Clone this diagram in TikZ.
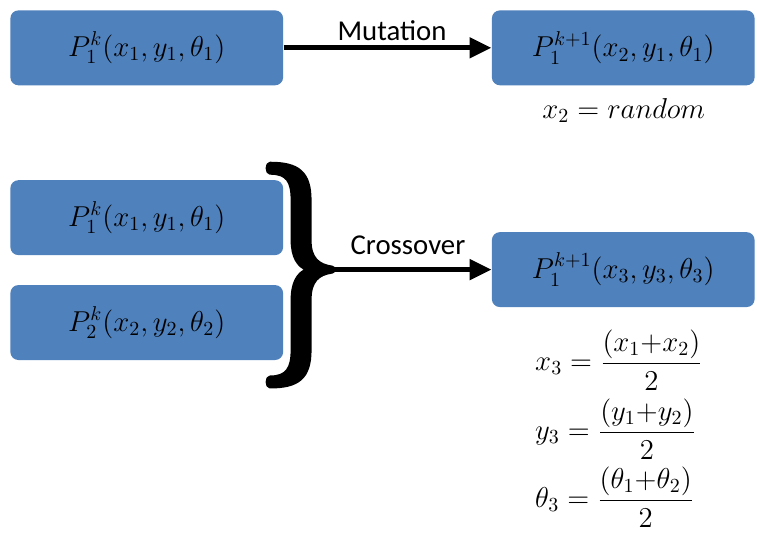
\documentclass[tikz,border=0pt]{standalone}
\usepackage{amsmath,amssymb}
\usepackage{fontspec}
\setsansfont{Carlito}
\usetikzlibrary{arrows.meta}
\definecolor{boxblue}{RGB}{79,129,189}

\begin{document}
\begin{tikzpicture}[x=0.5pt,y=0.5pt,
  gabox/.style={fill=boxblue,rounded corners=4pt,minimum height=37.5pt,inner sep=0pt,font=\Large},
  oparrow/.style={line width=2.5pt,-{Triangle[length=11pt,width=10pt]}},
  oplabel/.style={font=\sffamily\Large,inner sep=0pt},
  eqtext/.style={font=\Large,inner sep=0pt,anchor=west}]
\filldraw[color=white] (0,0) rectangle (757,-532);
% Drawing mutation row
\node[gabox,minimum width=136.5pt] (pmut) at (146.5,-47.5) {$P_1^k(x_1,y_1,\theta_1)$};
\node[gabox,minimum width=131.5pt] (cmut) at (623.5,-47.5) {$P_1^{k+1}(x_2,y_1,\theta_1)$};
\draw[oparrow] (pmut.east) -- (cmut.west);
\node[oplabel] (lmut) at (392,-30) {Mutation};
\node[font=\Large,inner sep=0pt] (rmut) at (624,-110) {$x_2=random$};
% Drawing crossover row
\node[gabox,minimum width=136.5pt] (pone) at (146.5,-217.5) {$P_1^k(x_1,y_1,\theta_1)$};
\node[gabox,minimum width=136.5pt] (ptwo) at (146.5,-322.5) {$P_2^k(x_2,y_2,\theta_2)$};
\node[gabox,minimum width=131.5pt] (ccross) at (623.5,-269.5) {$P_1^{k+1}(x_3,y_3,\theta_3)$};
% Brace as a filled outline
\filldraw[line width=1.5pt,line join=round] (270,-163) .. controls (298,-163) and (310,-172) .. (310,-200)
  -- (310,-240) .. controls (310,-258) and (318,-265) .. (332,-267)
  .. controls (335,-268) and (335,-271) .. (332,-272)
  .. controls (318,-274) and (310,-281) .. (310,-300)
  -- (310,-350) .. controls (310,-378) and (298,-387) .. (270,-387)
  .. controls (266,-387) and (266,-377) .. (270,-377)
  .. controls (287,-377) and (292,-368) .. (292,-350)
  -- (292,-300) .. controls (292,-282) and (298,-273) .. (307,-269.5)
  .. controls (298,-266) and (292,-257) .. (292,-240)
  -- (292,-200) .. controls (292,-181) and (287,-173) .. (270,-173)
  .. controls (266,-173) and (266,-163) .. (270,-163) -- cycle;
\coordinate (tip) at (330,-269.5);
\draw[oparrow] (tip) -- (ccross.west);
\node[oplabel] (lcross) at (408,-245) {Crossover};
% Done with arrows; drawing formulas
\node[eqtext] (eqx) at (535,-360) {$x_3=\dfrac{(x_1{+}x_2)}{2}$};
\node[eqtext] (eqy) at (535,-429) {$y_3=\dfrac{(y_1{+}y_2)}{2}$};
\node[eqtext] (eqt) at (535,-497) {$\theta_3=\dfrac{(\theta_1{+}\theta_2)}{2}$};
\end{tikzpicture}
\end{document}
